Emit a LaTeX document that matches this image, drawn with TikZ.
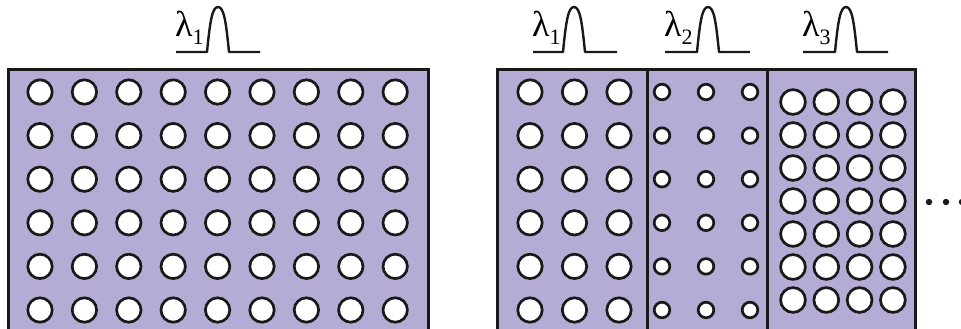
\documentclass[tikz,border=0pt]{standalone}
\usepackage{fontspec}
\setmainfont{Liberation Serif}
\definecolor{panelfill}{RGB}{181,172,214}
\definecolor{edge}{RGB}{25,25,25}
\begin{document}
\begin{tikzpicture}[x=1pt,y=-1pt,
  panel/.style={fill=panelfill, draw=edge, line width=3pt},
  divider/.style={draw=edge, line width=3pt},
  hole/.style={fill=white, draw=edge, line width=2.7pt},
  pulse/.style={draw=edge, line width=2.4pt, line join=round},
  lam/.style={anchor=base west, inner sep=0pt, font=\fontsize{36}{40}\selectfont},
  dot/.style={fill=edge}
]
\useasboundingbox (0,0) rectangle (961,329);
\clip (0,0) rectangle (961,329);
% panels
\draw[panel] (8,70) rectangle (428,345);
\draw[panel] (497,70) rectangle (915,345);
\draw[divider] (647,70) -- (647,345);
\draw[divider] (767,70) -- (767,345);
% left grid
\foreach \i in {0,...,8}{
  \foreach \j in {0,...,5}{
    \draw[hole] (40+44.4*\i, 92+43.6*\j) circle (12.2);
  }
}
% right section 1
\foreach \xx in {530,574.5,619}{
  \foreach \j in {0,...,5}{
    \draw[hole] (\xx, 92+43.6*\j) circle (12.2);
  }
}
% right section 2
\foreach \xx in {662,706,750}{
  \foreach \j in {0,...,5}{
    \draw[hole] (\xx, 92+43.6*\j) circle (7.8);
  }
}
% right section 3
\foreach \i in {0,...,3}{
  \foreach \j in {0,...,6}{
    \draw[hole] (793+33.3*\i, 102+33*\j) circle (12.4);
  }
}
% dots
\fill[dot] (929,202) circle (3.2);
\fill[dot] (946,202) circle (3.2);
\fill[dot] (962,202) circle (3.2);
% labels and pulses
\node[lam] (la) at (175,37) {λ\raisebox{-8pt}{\fontsize{22}{24}\selectfont 1}};
\draw[pulse] (176,52) -- (207,52) .. controls (210,22) and (212,7) .. (218,7) .. controls (224,7) and (226,22) .. (229,52) -- (260,52);
\node[lam] (lb) at (532,37) {λ\raisebox{-8pt}{\fontsize{22}{24}\selectfont 1}};
\draw[pulse] (533,52) -- (563,52) .. controls (566,22) and (568,7) .. (574,7) .. controls (580,7) and (582,22) .. (585,52) -- (617,52);
\node[lam] (lc) at (664,37) {λ\raisebox{-8pt}{\fontsize{22}{24}\selectfont 2}};
\draw[pulse] (665,52) -- (697,52) .. controls (700,22) and (702,7) .. (708,7) .. controls (714,7) and (716,22) .. (719,52) -- (750,52);
\node[lam] (ld) at (802,37) {λ\raisebox{-8pt}{\fontsize{22}{24}\selectfont 3}};
\draw[pulse] (803,52) -- (835,52) .. controls (838,22) and (840,7) .. (846,7) .. controls (852,7) and (854,22) .. (857,52) -- (888,52);
\end{tikzpicture}
\end{document}
